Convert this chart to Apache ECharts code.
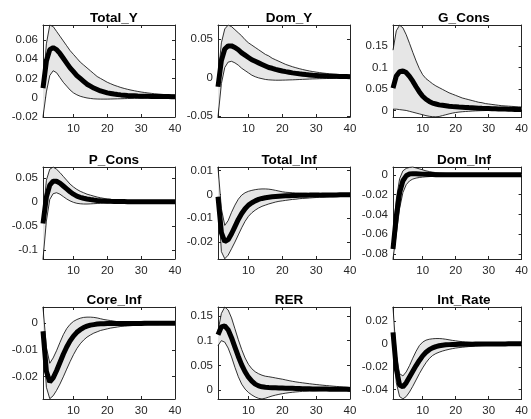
<!DOCTYPE html>
<html>
<head>
<meta charset="utf-8">
<script src="https://cdn.jsdelivr.net/npm/echarts@6/dist/echarts.min.js"></script>
<style>
  html, body { margin: 0; padding: 0; background: #ffffff; }
  #chart { width: 531px; height: 419px; }
</style>
</head>
<body>
<div id="chart"></div>
<script>
// horizon (periods after the shock)
const periods = [1, 2, 3, 4, 5, 6, 7, 8, 9, 10, 11, 12, 13, 14, 15, 16, 17, 18, 19, 20,
  21, 22, 23, 24, 25, 26, 27, 28, 29, 30, 31, 32, 33, 34, 35, 36, 37, 38, 39, 40]

const titles = ['Total_Y', 'Dom_Y', 'G_Cons', 'P_Cons', 'Total_Inf', 'Dom_Inf', 'Core_Inf', 'RER', 'Int_Rate']

// Total_Y
const totalYMid = [0.010, 0.038, 0.050, 0.052, 0.050, 0.046, 0.041, 0.036, 0.031, 0.027,
  0.023, 0.020, 0.017, 0.014, 0.012, 0.010, 0.0085, 0.007, 0.006, 0.005,
  0.0044, 0.0038, 0.0033, 0.0029, 0.0026, 0.0023, 0.0021, 0.0019, 0.0017, 0.0016,
  0.0015, 0.0014, 0.0013, 0.0013, 0.0012, 0.0012, 0.0011, 0.0011, 0.0010, 0.0010]
const totalYHi = [0.012, 0.056, 0.0755, 0.074, 0.069, 0.064, 0.059, 0.054, 0.049, 0.045,
  0.041, 0.037, 0.034, 0.031, 0.028, 0.025, 0.022, 0.020, 0.018, 0.016,
  0.0145, 0.013, 0.0118, 0.0106, 0.0096, 0.0087, 0.0079, 0.0072, 0.0065, 0.0059,
  0.0054, 0.0049, 0.0045, 0.0041, 0.0038, 0.0035, 0.0032, 0.0030, 0.0028, 0.0026]
const totalYLo = [-0.020, 0.006, 0.023, 0.028, 0.026, 0.021, 0.016, 0.012, 0.008, 0.005,
  0.003, 0.0015, 0.0005, -0.0003, -0.0008, -0.0012, -0.0014, -0.0015, -0.0015, -0.0015,
  -0.0014, -0.0013, -0.0012, -0.0011, -0.0010, -0.0009, -0.0008, -0.0007, -0.0006, -0.0005,
  -0.0004, -0.0003, -0.0002, -0.0001, 0, 0, 0.0001, 0.0001, 0.0002, 0.0002]

// Dom_Y
const domYMid = [-0.012, 0.022, 0.037, 0.041, 0.041, 0.039, 0.036, 0.032, 0.029, 0.026,
  0.023, 0.021, 0.019, 0.017, 0.015, 0.013, 0.012, 0.0105, 0.0095, 0.0085,
  0.0076, 0.0068, 0.006, 0.0054, 0.0048, 0.0043, 0.0038, 0.0034, 0.003, 0.0027,
  0.0024, 0.0022, 0.002, 0.0018, 0.0016, 0.0015, 0.0014, 0.0013, 0.0012, 0.0011]
const domYHi = [0.0, 0.045, 0.063, 0.068, 0.066, 0.062, 0.058, 0.054, 0.049, 0.045,
  0.042, 0.039, 0.036, 0.033, 0.030, 0.028, 0.025, 0.023, 0.021, 0.019,
  0.017, 0.0155, 0.014, 0.0127, 0.0115, 0.0104, 0.0094, 0.0085, 0.0077, 0.007,
  0.0064, 0.0058, 0.0053, 0.0048, 0.0044, 0.004, 0.0037, 0.0034, 0.0031, 0.0029]
const domYLo = [-0.051, -0.008, 0.013, 0.020, 0.021, 0.019, 0.016, 0.012, 0.009, 0.006,
  0.003, 0.001, -0.0005, -0.0015, -0.0025, -0.003, -0.0033, -0.0035, -0.0035, -0.0034,
  -0.0033, -0.0031, -0.003, -0.0028, -0.0026, -0.0024, -0.0022, -0.002, -0.0018, -0.0017,
  -0.0015, -0.0014, -0.0013, -0.0012, -0.0011, -0.001, -0.0009, -0.0008, -0.0008, -0.0007]

// G_Cons
const gConsMid = [0.052, 0.080, 0.090, 0.092, 0.088, 0.079, 0.068, 0.055, 0.043, 0.033,
  0.026, 0.021, 0.017, 0.015, 0.013, 0.012, 0.011, 0.010, 0.0093, 0.0087,
  0.0081, 0.0076, 0.0071, 0.0066, 0.0062, 0.0058, 0.0054, 0.005, 0.0047, 0.0044,
  0.0041, 0.0038, 0.0035, 0.0033, 0.0031, 0.0029, 0.0027, 0.0025, 0.0024, 0.0023]
const gConsHi = [0.14, 0.185, 0.198, 0.192, 0.176, 0.156, 0.135, 0.115, 0.097, 0.083,
  0.074, 0.068, 0.062, 0.057, 0.053, 0.049, 0.045, 0.041, 0.038, 0.035,
  0.032, 0.029, 0.027, 0.025, 0.023, 0.021, 0.019, 0.018, 0.016, 0.015,
  0.014, 0.013, 0.012, 0.011, 0.0105, 0.010, 0.0095, 0.009, 0.0085, 0.008]
const gConsLo = [0.003, 0.003, 0.002, 0.001, 0.0, -0.002, -0.004, -0.006, -0.008, -0.010,
  -0.012, -0.0135, -0.0145, -0.0148, -0.014, -0.012, -0.010, -0.008, -0.0062, -0.0048,
  -0.0038, -0.003, -0.0024, -0.0019, -0.0014, -0.001, -0.0007, -0.0004, -0.0002, 0.0,
  0.0002, 0.0003, 0.0004, 0.0005, 0.0006, 0.0007, 0.0008, 0.0008, 0.0009, 0.001]

// P_Cons
const pConsMid = [-0.045, 0.010, 0.035, 0.043, 0.043, 0.039, 0.033, 0.027, 0.021, 0.016,
  0.012, 0.0095, 0.0075, 0.006, 0.0048, 0.0038, 0.003, 0.0024, 0.0019, 0.0015,
  0.0012, 0.001, 0.0008, 0.0006, 0.0005, 0.0004, 0.0003, 0.0003, 0.0002, 0.0002,
  0.0002, 0.0001, 0.0001, 0.0001, 0.0001, 0, 0, 0, 0, 0]
const pConsHi = [-0.03, 0.045, 0.068, 0.0725, 0.068, 0.061, 0.053, 0.045, 0.037, 0.031,
  0.026, 0.022, 0.019, 0.016, 0.014, 0.012, 0.010, 0.0085, 0.0072, 0.0061,
  0.0052, 0.0044, 0.0038, 0.0033, 0.0028, 0.0024, 0.0021, 0.0018, 0.0016, 0.0014,
  0.0012, 0.0011, 0.001, 0.0009, 0.0008, 0.0007, 0.0007, 0.0006, 0.0006, 0.0005]
const pConsLo = [-0.119, -0.04, 0.005, 0.017, 0.019, 0.016, 0.011, 0.006, 0.002, -0.001,
  -0.003, -0.004, -0.0045, -0.0045, -0.0042, -0.0038, -0.0034, -0.003, -0.0026, -0.0023,
  -0.002, -0.0018, -0.0016, -0.0014, -0.0012, -0.001, -0.0009, -0.0008, -0.0007, -0.0006,
  -0.0005, -0.0005, -0.0004, -0.0004, -0.0003, -0.0003, -0.0003, -0.0002, -0.0002, -0.0002]

// Total_Inf
const totalInfMid = [-0.001, -0.016, -0.0198, -0.019, -0.0165, -0.0135, -0.0105, -0.008, -0.006, -0.0045,
  -0.0035, -0.0027, -0.0021, -0.0017, -0.0014, -0.0012, -0.001, -0.0009, -0.0008, -0.0007,
  -0.0006, -0.0006, -0.0005, -0.0005, -0.0004, -0.0004, -0.0004, -0.0003, -0.0003, -0.0003,
  -0.0003, -0.0002, -0.0002, -0.0002, -0.0002, -0.0002, -0.0001, -0.0001, -0.0001, -0.0001]
const totalInfHi = [0.0114, -0.006, -0.013, -0.011, -0.0075, -0.0045, -0.002, -0.0003, 0.0007, 0.0013,
  0.0017, 0.002, 0.0022, 0.0023, 0.0023, 0.0022, 0.002, 0.0017, 0.0014, 0.0011,
  0.0009, 0.0008, 0.0007, 0.0006, 0.0005, 0.0005, 0.0005, 0.0004, 0.0004, 0.0004,
  0.0004, 0.0004, 0.0003, 0.0003, 0.0003, 0.0003, 0.0003, 0.0003, 0.0003, 0.0003]
const totalInfLo = [-0.001, -0.024, -0.027, -0.0255, -0.0228, -0.020, -0.017, -0.014, -0.0113, -0.0092,
  -0.0077, -0.0066, -0.0057, -0.005, -0.0045, -0.004, -0.0036, -0.0032, -0.0029, -0.0027,
  -0.0025, -0.0023, -0.0021, -0.002, -0.0018, -0.0017, -0.0016, -0.0015, -0.0014, -0.0013,
  -0.0012, -0.0012, -0.0011, -0.001, -0.001, -0.0009, -0.0009, -0.0008, -0.0008, -0.0008]

// Dom_Inf
const domInfMid = [-0.075, -0.042, -0.018, -0.006, -0.001, 0.0008, 0.0012, 0.0011, 0.0009, 0.0007,
  0.0005, 0.0003, 0.0002, 0.0001, 0, 0, 0, 0, 0, 0,
  0, 0, 0, 0, 0, 0, 0, 0, 0, 0,
  0, 0, 0, 0, 0, 0, 0, 0, 0, 0]
const domInfHi = [-0.062, -0.025, -0.004, 0.004, 0.0065, 0.0075, 0.0078, 0.007, 0.006, 0.005,
  0.004, 0.0033, 0.0027, 0.0022, 0.0018, 0.0016, 0.0014, 0.0013, 0.0012, 0.0011,
  0.001, 0.001, 0.001, 0.0009, 0.0009, 0.0009, 0.0009, 0.0008, 0.0008, 0.0008,
  0.0008, 0.0008, 0.0007, 0.0007, 0.0007, 0.0007, 0.0007, 0.0007, 0.0007, 0.0007]
const domInfLo = [-0.085, -0.06, -0.034, -0.018, -0.010, -0.0062, -0.0043, -0.0033, -0.0027, -0.0023,
  -0.002, -0.0018, -0.0016, -0.0014, -0.0013, -0.0012, -0.0011, -0.0011, -0.001, -0.001,
  -0.001, -0.0009, -0.0009, -0.0009, -0.0009, -0.0008, -0.0008, -0.0008, -0.0008, -0.0008,
  -0.0008, -0.0007, -0.0007, -0.0007, -0.0007, -0.0007, -0.0007, -0.0007, -0.0007, -0.0007]

// Core_Inf
const coreInfMid = [-0.003, -0.018, -0.022, -0.0205, -0.0178, -0.0147, -0.0116, -0.0089, -0.0066, -0.0048,
  -0.0034, -0.0024, -0.0016, -0.0011, -0.0007, -0.0005, -0.0003, -0.0002, -0.0002, -0.0001,
  -0.0001, -0.0001, -0.0001, -0.0001, -0.0001, -0.0001, -0.0001, -0.0001, -0.0001, -0.0001,
  0, 0, 0, 0, 0, 0, 0, 0, 0, 0]
const coreInfHi = [0.006, -0.009, -0.015, -0.013, -0.0103, -0.0072, -0.0043, -0.002, -0.0004, 0.0007,
  0.0014, 0.0019, 0.0022, 0.0023, 0.0023, 0.0022, 0.002, 0.0017, 0.0014, 0.0012,
  0.001, 0.0008, 0.0006, 0.0005, 0.0004, 0.0004, 0.0003, 0.0003, 0.0003, 0.0003,
  0.0003, 0.0003, 0.0003, 0.0002, 0.0002, 0.0002, 0.0002, 0.0002, 0.0002, 0.0002]
const coreInfLo = [-0.004, -0.024, -0.0283, -0.0272, -0.0252, -0.0228, -0.0201, -0.0172, -0.0144, -0.0118,
  -0.0095, -0.0077, -0.0063, -0.0052, -0.0044, -0.0037, -0.0032, -0.0027, -0.0024, -0.0021,
  -0.0018, -0.0016, -0.0014, -0.0012, -0.0011, -0.001, -0.0009, -0.0008, -0.0007, -0.0006,
  -0.0006, -0.0005, -0.0005, -0.0005, -0.0005, -0.0004, -0.0004, -0.0004, -0.0004, -0.0004]

// RER
const rerMid = [0.112, 0.128, 0.130, 0.122, 0.106, 0.087, 0.068, 0.051, 0.037, 0.026,
  0.018, 0.012, 0.0085, 0.0065, 0.0055, 0.005, 0.0047, 0.0045, 0.0043, 0.0041,
  0.0039, 0.0037, 0.0035, 0.0033, 0.0031, 0.0029, 0.0027, 0.0025, 0.0023, 0.0022,
  0.0021, 0.002, 0.0019, 0.0018, 0.0017, 0.0016, 0.0015, 0.0014, 0.0014, 0.0013]
const rerHi = [0.12, 0.155, 0.168, 0.162, 0.146, 0.124, 0.102, 0.082, 0.065, 0.052,
  0.043, 0.037, 0.033, 0.030, 0.028, 0.027, 0.0258, 0.0245, 0.0232, 0.022,
  0.0205, 0.019, 0.0177, 0.0165, 0.0155, 0.0146, 0.0137, 0.0128, 0.012, 0.0112,
  0.0105, 0.0098, 0.0091, 0.0085, 0.0079, 0.0073, 0.0068, 0.0063, 0.0058, 0.0054]
const rerLo = [0.09, 0.10, 0.097, 0.085, 0.067, 0.046, 0.027, 0.012, 0.002, -0.005,
  -0.010, -0.014, -0.0168, -0.018, -0.0165, -0.0142, -0.012, -0.0102, -0.0087, -0.0074,
  -0.0063, -0.0053, -0.0045, -0.0038, -0.0032, -0.0027, -0.0023, -0.002, -0.0017, -0.0015,
  -0.0013, -0.0012, -0.0011, -0.001, -0.0009, -0.0009, -0.0008, -0.0008, -0.0007, -0.0007]

// Int_Rate
const intRateMid = [0.010, -0.022, -0.036, -0.0375, -0.034, -0.029, -0.024, -0.019, -0.0145, -0.0105,
  -0.0074, -0.0051, -0.0035, -0.0024, -0.0017, -0.0012, -0.0009, -0.0007, -0.0006, -0.0005,
  -0.0004, -0.0004, -0.0003, -0.0003, -0.0003, -0.0002, -0.0002, -0.0002, -0.0002, -0.0001,
  -0.0001, -0.0001, -0.0001, -0.0001, -0.0001, 0, 0, 0, 0, 0]
const intRateHi = [0.032, -0.010, -0.026, -0.028, -0.0245, -0.019, -0.0125, -0.0065, -0.0015, 0.0015,
  0.0032, 0.004, 0.0044, 0.0046, 0.0046, 0.0044, 0.004, 0.0035, 0.003, 0.0026,
  0.0022, 0.0019, 0.0016, 0.0014, 0.0012, 0.001, 0.0009, 0.0008, 0.0007, 0.0007,
  0.0006, 0.0006, 0.0006, 0.0006, 0.0006, 0.0005, 0.0005, 0.0005, 0.0005, 0.0005]
const intRateLo = [0.006, -0.034, -0.046, -0.048, -0.046, -0.042, -0.037, -0.0315, -0.026, -0.021,
  -0.0165, -0.0128, -0.0102, -0.0085, -0.0073, -0.0063, -0.0055, -0.0048, -0.0042, -0.0037,
  -0.0033, -0.003, -0.0027, -0.0024, -0.0022, -0.002, -0.0018, -0.0016, -0.0015, -0.0014,
  -0.0013, -0.0012, -0.0012, -0.0011, -0.0011, -0.001, -0.001, -0.001, -0.0009, -0.0009]

// axis limits and tick labels, one per panel
const xTicks = [10, 20, 30, 40]
const yMin = [-0.0201, -0.0512, -0.0152, -0.119, -0.0271, -0.0851, -0.0284, -0.0181, -0.0481]
const yMax = [0.0756, 0.0681, 0.1985, 0.0726, 0.0115, 0.0079, 0.0061, 0.1681, 0.0321]
const yTicks = [
  [-0.02, 0, 0.02, 0.04, 0.06],
  [-0.05, 0, 0.05],
  [0, 0.05, 0.1, 0.15],
  [-0.1, -0.05, 0, 0.05],
  [-0.02, -0.01, 0, 0.01],
  [-0.08, -0.06, -0.04, -0.02, 0],
  [-0.02, -0.01, 0],
  [0, 0.05, 0.1, 0.15],
  [-0.04, -0.02, 0, 0.02]
]

const mids = [totalYMid, domYMid, gConsMid, pConsMid, totalInfMid, domInfMid, coreInfMid, rerMid, intRateMid]
const his = [totalYHi, domYHi, gConsHi, pConsHi, totalInfHi, domInfHi, coreInfHi, rerHi, intRateHi]
const los = [totalYLo, domYLo, gConsLo, pConsLo, totalInfLo, domInfLo, coreInfLo, rerLo, intRateLo]

const chart = echarts.init(document.getElementById('chart'), null, { renderer: 'canvas' })

const gridLeft = [43, 218, 393]
const gridTop = [25, 167, 307]
const gridW = 132
const gridH = 92
const axisColor = '#262626'
const font = 'Liberation Sans, Arial, Helvetica, sans-serif'

const grids = []
const xAxes = []
const yAxes = []
const titleList = []
const series = []

const pairs = (ys) => periods.map((p, k) => [p, ys[k]])

titles.forEach((name, i) => {
  const left = gridLeft[i % 3]
  const top = gridTop[Math.floor(i / 3)]
  grids.push({ left: left, top: top, width: gridW, height: gridH, show: false })

  titleList.push({
    text: name,
    left: left + gridW / 2,
    top: top - 19,
    textAlign: 'center',
    textStyle: { fontFamily: font, fontSize: 13.5, fontWeight: 'bold', color: '#000000' }
  })

  const tickStyle = { show: true, inside: true, length: 3, lineStyle: { color: axisColor, width: 1 } }
  const lineStyle = { show: true, onZero: false, lineStyle: { color: axisColor, width: 1 } }

  xAxes.push({
    gridIndex: i, type: 'value', position: 'bottom', min: 1, max: 40,
    axisLine: lineStyle,
    axisTick: Object.assign({ customValues: xTicks }, tickStyle),
    axisLabel: { customValues: xTicks, color: axisColor, fontFamily: font, fontSize: 11.5, margin: 6 },
    splitLine: { show: false }
  })
  xAxes.push({
    gridIndex: i, type: 'value', position: 'top', min: 1, max: 40,
    axisLine: lineStyle,
    axisTick: Object.assign({ customValues: xTicks }, tickStyle),
    axisLabel: { show: false },
    splitLine: { show: false }
  })
  yAxes.push({
    gridIndex: i, type: 'value', position: 'left', min: yMin[i], max: yMax[i],
    axisLine: lineStyle,
    axisTick: Object.assign({ customValues: yTicks[i] }, tickStyle),
    axisLabel: { customValues: yTicks[i], color: axisColor, fontFamily: font, fontSize: 11.5, margin: 5 },
    splitLine: { show: false }
  })
  yAxes.push({
    gridIndex: i, type: 'value', position: 'right', min: yMin[i], max: yMax[i],
    axisLine: lineStyle,
    axisTick: Object.assign({ customValues: yTicks[i] }, tickStyle),
    axisLabel: { show: false },
    splitLine: { show: false }
  })

  const lo = los[i]
  const hi = his[i]
  // shaded band between lower and upper bounds
  series.push({
    type: 'custom',
    xAxisIndex: 2 * i,
    yAxisIndex: 2 * i,
    silent: true,
    z: 1,
    data: periods.map((p, k) => [p, lo[k], hi[k]]),
    encode: { x: 0, y: [1, 2] },
    renderItem: function (params, api) {
      if (params.dataIndex !== 0) return null
      const pts = []
      for (let k = 0; k < periods.length; k++) pts.push(api.coord([periods[k], lo[k]]))
      for (let k = periods.length - 1; k >= 0; k--) pts.push(api.coord([periods[k], hi[k]]))
      return { type: 'polygon', shape: { points: pts }, style: { fill: '#e6e6e6', stroke: null } }
    }
  })
  const thin = { type: 'line', xAxisIndex: 2 * i, yAxisIndex: 2 * i, showSymbol: false, symbol: 'none',
    silent: true, clip: false, z: 2, lineStyle: { color: '#000000', width: 0.8 } }
  series.push(Object.assign({ data: pairs(hi) }, thin))
  series.push(Object.assign({ data: pairs(lo) }, thin))
  series.push({
    type: 'line', xAxisIndex: 2 * i, yAxisIndex: 2 * i, data: pairs(mids[i]),
    showSymbol: false, symbol: 'none', silent: true, clip: false, z: 3,
    lineStyle: { color: '#000000', width: 5 }
  })
})

chart.setOption({
  backgroundColor: '#ffffff',
  animation: false,
  title: titleList,
  grid: grids,
  xAxis: xAxes,
  yAxis: yAxes,
  series: series
})
</script>
</body>
</html>
